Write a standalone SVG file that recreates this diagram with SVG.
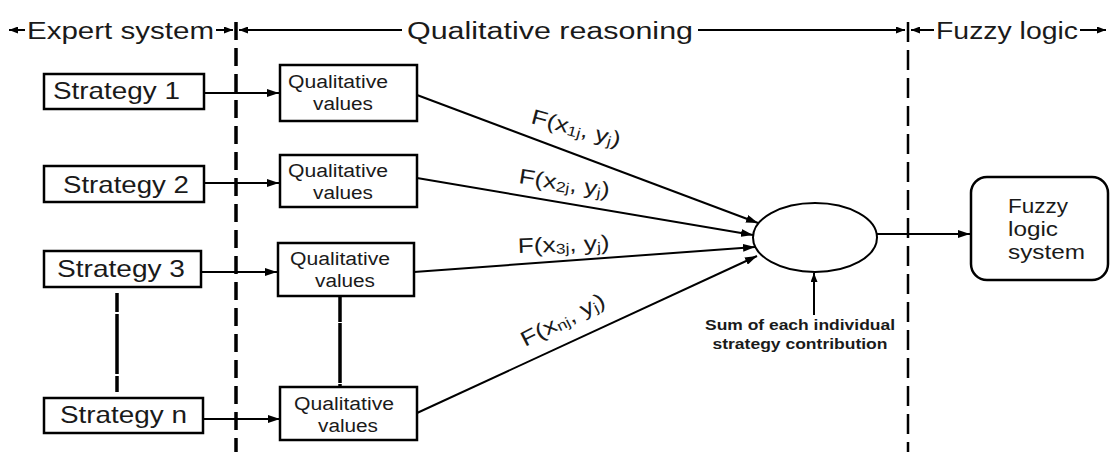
<svg xmlns="http://www.w3.org/2000/svg" width="1112" height="452" viewBox="0 0 1112 452">
<style>
.t{font-family:"Liberation Sans",Arial,sans-serif;fill:#1a1a1a}
.box{fill:#fff;stroke:#000;stroke-width:2.5}
.ln{stroke:#000;stroke-width:2;fill:none}
.hd{font-size:23px}
.st{font-size:24px}
.qv{font-size:18px}
</style>
<defs>
<marker id="ah" viewBox="0 0 12 8" refX="12" refY="4" markerWidth="12" markerHeight="8" markerUnits="userSpaceOnUse" orient="auto"><path d="M0,0 L12,4 L0,8 z" fill="#000"/></marker>
<marker id="hs" viewBox="0 0 9 7" refX="9" refY="3.5" markerWidth="9" markerHeight="7" markerUnits="userSpaceOnUse" orient="auto"><path d="M0,0 L9,3.5 L0,7 z" fill="#000"/></marker>
</defs>
<rect width="1112" height="452" fill="#fff"/>

<g id="header">
<line class="ln" x1="25" y1="30" x2="9" y2="30" marker-end="url(#hs)"/>
<text class="t hd" x="27" y="39" textLength="187" lengthAdjust="spacingAndGlyphs">Expert system</text>
<line class="ln" x1="216" y1="30" x2="233" y2="30" marker-end="url(#hs)"/>
<line class="ln" x1="402" y1="30" x2="239" y2="30" stroke-width="2.5" marker-end="url(#hs)"/>
<text class="t hd" x="407" y="39" textLength="286" lengthAdjust="spacingAndGlyphs">Qualitative reasoning</text>
<line class="ln" x1="698" y1="30" x2="905" y2="30" marker-end="url(#hs)"/>
<line class="ln" x1="934" y1="30" x2="911" y2="30" marker-end="url(#hs)"/>
<text class="t hd" x="936" y="39" textLength="142" lengthAdjust="spacingAndGlyphs">Fuzzy logic</text>
<line class="ln" x1="1080" y1="30" x2="1106" y2="30" marker-end="url(#hs)"/>
</g>

<g id="dividers">
<line x1="236" y1="22" x2="236" y2="452" stroke="#000" stroke-width="3.5" stroke-dasharray="18 8"/>
<line x1="908" y1="22" x2="908" y2="452" stroke="#000" stroke-width="2.5" stroke-dasharray="20 8"/>
</g>

<g id="connectors">
<line class="ln" x1="204" y1="93" x2="279" y2="93" stroke-width="3" marker-end="url(#ah)"/>
<line class="ln" x1="204" y1="183" x2="279" y2="183" marker-end="url(#ah)"/>
<line class="ln" x1="201" y1="272" x2="277" y2="272" marker-end="url(#ah)"/>
<line class="ln" x1="203" y1="419" x2="280" y2="419" marker-end="url(#ah)"/>
<line x1="117" y1="293" x2="117" y2="392" stroke="#000" stroke-width="3.5" stroke-dasharray="19 2 60 2 20"/>
<line x1="340" y1="296" x2="340" y2="387" stroke="#000" stroke-width="3.5" stroke-dasharray="26 1 60 1 10"/>
<line class="ln" x1="417" y1="95" x2="758" y2="223" stroke-width="1.8" marker-end="url(#ah)"/>
<line class="ln" x1="417" y1="178" x2="753" y2="235" stroke-width="1.8" marker-end="url(#ah)"/>
<line class="ln" x1="414" y1="272" x2="755" y2="247" stroke-width="1.8" marker-end="url(#ah)"/>
<line class="ln" x1="417" y1="413" x2="757" y2="256" stroke-width="1.8" marker-end="url(#ah)"/>
<line class="ln" x1="877" y1="234" x2="970" y2="234" marker-end="url(#ah)"/>
<line class="ln" x1="814" y1="315" x2="814" y2="273" marker-end="url(#hs)"/>
<g class="t" font-size="21">
<text transform="translate(530,123) rotate(15) scale(1.25,1)">F(x<tspan font-size="14" dy="2">1j</tspan><tspan dy="-2">, y</tspan><tspan font-size="14" dy="2">j</tspan><tspan dy="-2">)</tspan></text>
<text transform="translate(518,183) rotate(9) scale(1.25,1)">F(x<tspan font-size="14" dy="2">2j</tspan><tspan dy="-2">, y</tspan><tspan font-size="14" dy="2">j</tspan><tspan dy="-2">)</tspan></text>
<text transform="translate(518,253) rotate(-2) scale(1.25,1)">F(x<tspan font-size="14" dy="2">3j</tspan><tspan dy="-2">, y</tspan><tspan font-size="14" dy="2">j</tspan><tspan dy="-2">)</tspan></text>
<text transform="translate(525,347) rotate(-27) scale(1.25,1)">F(x<tspan font-size="14" dy="2">nj</tspan><tspan dy="-2">, y</tspan><tspan font-size="14" dy="2">j</tspan><tspan dy="-2">)</tspan></text>
</g>
</g>

<g id="strategy1"><rect class="box" x="44" y="74" width="160" height="35" stroke-width="3"/><text class="t st" x="53" y="99" textLength="127" lengthAdjust="spacingAndGlyphs">Strategy 1</text></g>
<g id="strategy2"><rect class="box" x="44" y="166" width="160" height="36"/><text class="t st" x="63" y="193" textLength="126" lengthAdjust="spacingAndGlyphs">Strategy 2</text></g>
<g id="strategy3"><rect class="box" x="44" y="251" width="157" height="36"/><text class="t st" x="57" y="277" textLength="128" lengthAdjust="spacingAndGlyphs">Strategy 3</text></g>
<g id="strategyn"><rect class="box" x="44" y="398" width="159" height="35"/><text class="t st" x="60" y="423" textLength="127" lengthAdjust="spacingAndGlyphs">Strategy n</text></g>

<g id="qual1"><rect class="box" x="280" y="65" width="137" height="56"/><text class="t qv" x="338" y="88" text-anchor="middle" textLength="100" lengthAdjust="spacingAndGlyphs">Qualitative</text><text class="t qv" x="343" y="110" text-anchor="middle" textLength="60" lengthAdjust="spacingAndGlyphs">values</text></g>
<g id="qual2"><rect class="box" x="280" y="155" width="137" height="52"/><text class="t qv" x="338" y="177" text-anchor="middle" textLength="100" lengthAdjust="spacingAndGlyphs">Qualitative</text><text class="t qv" x="343" y="199" text-anchor="middle" textLength="60" lengthAdjust="spacingAndGlyphs">values</text></g>
<g id="qual3"><rect class="box" x="278" y="243" width="136" height="53" stroke-width="4"/><text class="t qv" x="340" y="265" text-anchor="middle" textLength="100" lengthAdjust="spacingAndGlyphs">Qualitative</text><text class="t qv" x="345" y="287" text-anchor="middle" textLength="60" lengthAdjust="spacingAndGlyphs">values</text></g>
<g id="qualn"><rect class="box" x="280" y="387" width="137" height="53"/><text class="t qv" x="344" y="410" text-anchor="middle" textLength="100" lengthAdjust="spacingAndGlyphs">Qualitative</text><text class="t qv" x="348" y="432" text-anchor="middle" textLength="60" lengthAdjust="spacingAndGlyphs">values</text></g>

<g id="sum"><ellipse cx="815" cy="237.5" rx="62" ry="34.5" fill="#fff" stroke="#000" stroke-width="2"/></g>
<g id="sumlabel"><text class="t" font-size="15" font-weight="bold" x="800" y="330" text-anchor="middle" textLength="190" lengthAdjust="spacingAndGlyphs">Sum of each individual</text><text class="t" font-size="15" font-weight="bold" x="800" y="349" text-anchor="middle" textLength="175" lengthAdjust="spacingAndGlyphs">strategy contribution</text></g>

<g id="fuzzy"><rect class="box" x="971" y="177" width="137" height="103" rx="16" ry="16" stroke-width="2"/><text class="t" font-size="20" x="1008" y="213" textLength="60" lengthAdjust="spacingAndGlyphs">Fuzzy</text><text class="t" font-size="20" x="1008" y="236" textLength="50" lengthAdjust="spacingAndGlyphs">logic</text><text class="t" font-size="20" x="1008" y="259" textLength="77" lengthAdjust="spacingAndGlyphs">system</text></g>
</svg>
